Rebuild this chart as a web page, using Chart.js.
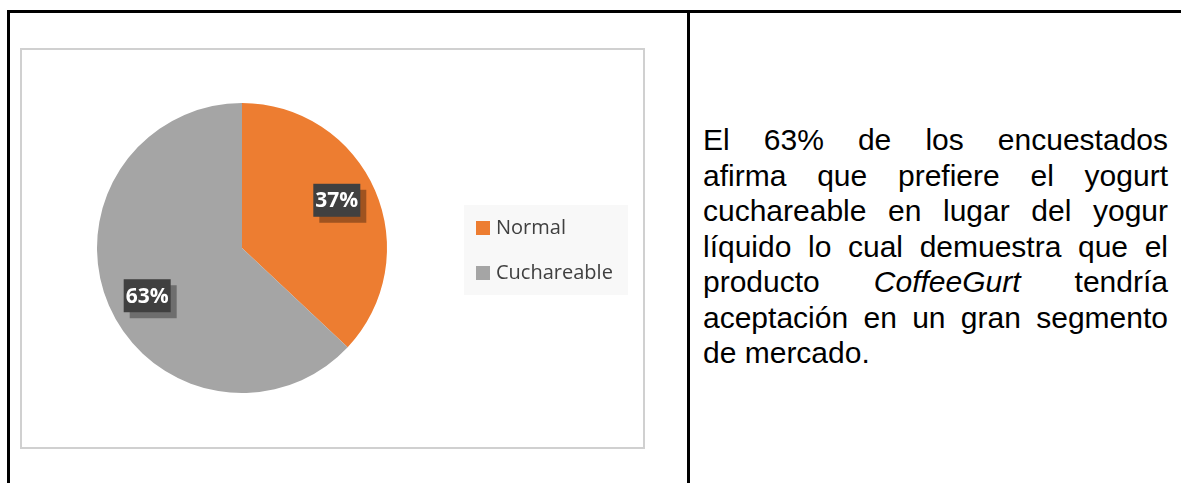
<!DOCTYPE html>
<html>
<head>
<meta charset="utf-8">
<script src="https://cdn.jsdelivr.net/npm/chart.js@4/dist/chart.umd.min.js"></script>
<style>
  html, body { margin: 0; padding: 0; background: #ffffff; }
  body { width: 1181px; height: 483px; position: relative; overflow: hidden; }
  .hline { position: absolute; left: 7px; top: 10px; width: 1174px; height: 3px; background: #000; }
  .vline1 { position: absolute; left: 7px; top: 10px; width: 3px; height: 473px; background: #000; }
  .vline2 { position: absolute; left: 687px; top: 10px; width: 3px; height: 473px; background: #000; }
  #chartBox { position: absolute; left: 20px; top: 48px; width: 621px; height: 397px; border: 2px solid #d0d0d0; background: #fff; }
  #chartBox canvas { display: block; }
  #txt { position: absolute; left: 703px; top: 122px; width: 465px; font-family: "Liberation Sans", Arial, sans-serif; font-size: 30px; line-height: 35.5px; color: #000; }
  #txt div { text-align: justify; text-align-last: justify; white-space: nowrap; }
  #txt div.last { text-align-last: left; }
</style>
</head>
<body>
<div class="hline"></div>
<div class="vline1"></div>
<div class="vline2"></div>
<div id="chartBox"><canvas id="c" width="621" height="397"></canvas></div>
<div id="txt">
  <div>El 63% de los encuestados</div>
  <div>afirma que prefiere el yogurt</div>
  <div>cuchareable en lugar del yogur</div>
  <div>líquido lo cual demuestra que el</div>
  <div>producto <i>CoffeeGurt</i> tendría</div>
  <div>aceptación en un gran segmento</div>
  <div class="last">de mercado.</div>
</div>
<script>
const categories = ["Normal", "Cuchareable"];
const values = [37, 63];
const valueLabels = ["37%", "63%"];
const colors = ["#ED7D31", "#A5A5A5"];

const labelPlugin = {
  id: 'pctLabels',
  afterDatasetsDraw(chart) {
    const ctx = chart.ctx;
    const meta = chart.getDatasetMeta(0);
    ctx.save();
    ctx.font = "bold 21px 'Open Sans', sans-serif";
    ctx.textAlign = 'center';
    ctx.textBaseline = 'middle';
    meta.data.forEach((arc, i) => {
      const mid = (arc.startAngle + arc.endAngle) / 2 - 0.058;
      const r = arc.outerRadius * 0.732;
      const cx = arc.x + Math.cos(mid) * r;
      const cy = arc.y + Math.sin(mid) * r;
      const w = 47, h = 33;
      ctx.fillStyle = 'rgba(0,0,0,0.33)';
      ctx.fillRect(cx - w / 2 + 6, cy - h / 2 + 6, w, h);
      ctx.fillStyle = '#404040';
      ctx.fillRect(cx - w / 2, cy - h / 2, w, h);
      ctx.fillStyle = '#ffffff';
      ctx.fillText(valueLabels[i], cx, cy + 1);
    });
    ctx.restore();
  }
};

const legendPlugin = {
  id: 'boxLegend',
  afterDraw(chart) {
    const ctx = chart.ctx;
    const x0 = 442, y0 = 155, w = 164, h = 90;
    ctx.save();
    ctx.fillStyle = '#f8f8f8';
    ctx.fillRect(x0, y0, w, h);
    ctx.font = "20px 'Open Sans', sans-serif";
    ctx.textBaseline = 'middle';
    ctx.textAlign = 'left';
    chart.data.labels.forEach((lab, i) => {
      const cy = y0 + 23 + i * 45;
      ctx.fillStyle = chart.data.datasets[0].backgroundColor[i];
      ctx.fillRect(x0 + 12, cy - 7, 14, 14);
      ctx.fillStyle = '#404040';
      ctx.fillText(lab, x0 + 32, cy);
    });
    ctx.restore();
  }
};

new Chart(document.getElementById('c'), {
  type: 'pie',
  data: {
    labels: categories,
    datasets: [{ data: values, backgroundColor: colors, borderWidth: 0 }]
  },
  options: {
    responsive: false,
    animation: false,
    layout: { padding: { left: 75, right: 256, top: 53, bottom: 54 } },
    plugins: { legend: { display: false }, tooltip: { enabled: false } }
  },
  plugins: [labelPlugin, legendPlugin]
});
</script>
</body>
</html>
